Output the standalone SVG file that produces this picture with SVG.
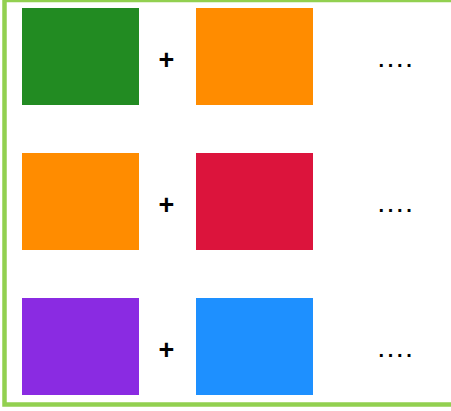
<svg xmlns="http://www.w3.org/2000/svg" width="451" height="411" viewBox="0 0 451 411">
<style>
.plus{font-family:"Liberation Sans",Arial,sans-serif;font-weight:bold;font-size:27px;fill:#000;text-anchor:middle}
.dots{font-family:"Liberation Sans",Arial,sans-serif;font-weight:bold;font-size:20px;fill:#000;text-anchor:middle;letter-spacing:3.7px}
</style>
<rect x="0" y="0" width="451" height="411" fill="#fff"/>
<path d="M 455 0 L 4.5 0 L 4.5 404.5 L 455 404.5" fill="none" stroke="#92D050" stroke-width="4.5"/>
<g id="row1">
<rect id="green" x="22" y="8" width="117" height="97" fill="#228B22"/>
<text class="plus" x="166.5" y="68.5">+</text>
<rect id="orange1" x="196" y="8" width="117" height="97" fill="#FF8C00"/>
<text class="dots" x="397" y="66.5">....</text>
</g>
<g id="row2">
<rect id="orange2" x="22" y="153" width="117" height="97" fill="#FF8C00"/>
<text class="plus" x="166.5" y="213.5">+</text>
<rect id="crimson" x="196" y="153" width="117" height="97" fill="#DC143C"/>
<text class="dots" x="397" y="211.5">....</text>
</g>
<g id="row3">
<rect id="purple" x="22" y="298" width="117" height="97" fill="#8A2BE2"/>
<text class="plus" x="166.5" y="358.5">+</text>
<rect id="blue" x="196" y="298" width="117" height="97" fill="#1E90FF"/>
<text class="dots" x="397" y="356.5">....</text>
</g>
</svg>
